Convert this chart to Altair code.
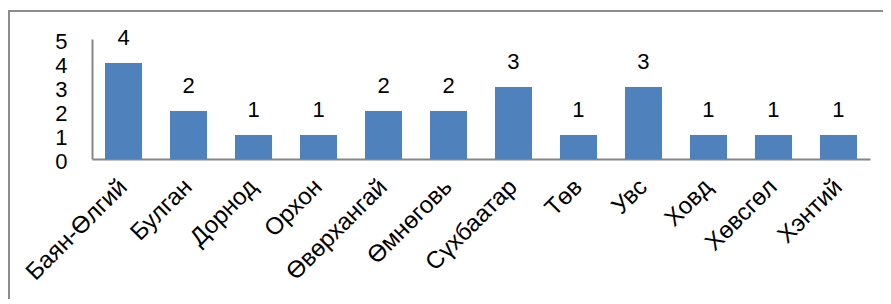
import altair as alt
import pandas as pd

categories = ["Баян-Өлгий", "Булган", "Дорнод", "Орхон", "Өвөрхангай", "Өмнөговь",
              "Сүхбаатар", "Төв", "Увс", "Ховд", "Хөвсгөл", "Хэнтий"]
values = [4, 2, 1, 1, 2, 2, 3, 1, 3, 1, 1, 1]
y_ticks = [0, 1, 2, 3, 4, 5]

df = pd.DataFrame({"cat": categories, "val": values})

W, H = 778, 120
FONT = "Liberation Sans"

x_enc = alt.X("cat:N", sort=categories, title=None,
              scale=alt.Scale(paddingInner=0.43, paddingOuter=0.2),
              axis=alt.Axis(labelAngle=-45, labelAlign="right", labelBaseline="middle",
                            labelFontSize=24, labelFont=FONT, labelColor="black",
                            labelPadding=24, ticks=False, domainColor="#868686",
                            domainWidth=2, labelOverlap=False, labelLimit=300))
y_enc = alt.Y("val:Q", title=None,
              scale=alt.Scale(domain=[0, 5], nice=False),
              axis=alt.Axis(values=y_ticks, format="d", ticks=False, grid=False,
                            labelFontSize=22, labelFont=FONT, labelColor="black",
                            labelPadding=25, labelOffset=2, domainColor="#868686",
                            domainWidth=2, labelOverlap=False))

base = alt.Chart(df).encode(x=x_enc, y=y_enc)
bars = base.mark_bar(color="#4F81BD")
labels = base.mark_text(dy=-25, fontSize=22, font=FONT, color="black").encode(text="val:Q")

frame_top = alt.Chart(df).mark_rule(color="#8c8c8c", strokeWidth=2).encode(
    x=alt.value(-83), x2=alt.value(W + 20), y=alt.value(-28))
frame_left = alt.Chart(df).mark_rule(color="#8c8c8c", strokeWidth=2).encode(
    x=alt.value(-83), y=alt.value(-29), y2=alt.value(H + 200))

chart = alt.layer(bars, labels, frame_top, frame_left).properties(
    width=W, height=H,
    autosize=alt.AutoSizeParams(type="none"),
    padding={"left": 84, "top": 31, "right": 13, "bottom": 140},
).configure_view(stroke=None)

chart.save("out.html", embed_options={"renderer": "svg", "actions": False})
